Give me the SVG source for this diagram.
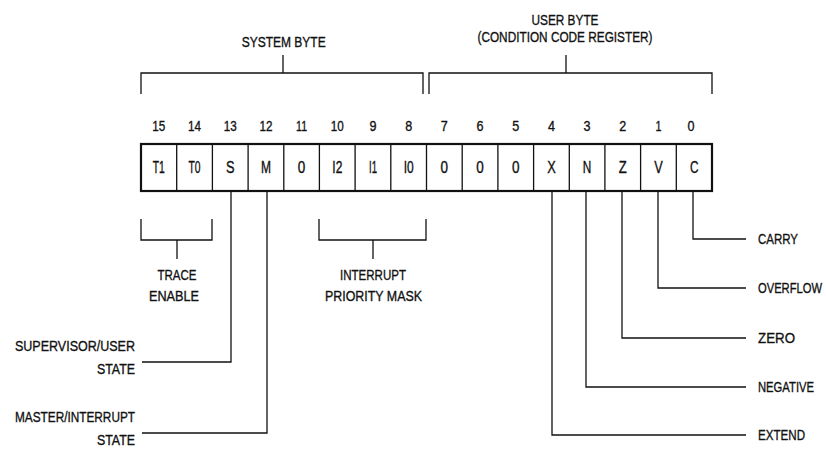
<svg xmlns="http://www.w3.org/2000/svg" width="826" height="453" viewBox="0 0 826 453">
<style>
text{font-family:"Liberation Sans",Arial,sans-serif;fill:#111;stroke:#111;stroke-width:0.35;font-size:15px}
.c{text-anchor:middle}
.e{text-anchor:end}
.cell{font-size:16px;text-anchor:middle}
.num{font-size:15px;text-anchor:middle}
.ln{fill:none;stroke:#111;stroke-width:1.3}
.box{fill:#fff;stroke:#111;stroke-width:2.2}
.div{stroke:#111;stroke-width:1.3}
</style>
<rect width="826" height="453" fill="#fff"/>
<g id="connectors">
<path class="ln" d="M141,94 V73 H423 V94 M283,55 V73"/>
<path class="ln" d="M429,94 V73 H712 V94 M566,55 V73"/>
<path class="ln" d="M141,219 V240 H212 V219 M177,240 V259"/>
<path class="ln" d="M319,219 V240 H426 V219 M373,240 V259"/>
<path class="ln" d="M231,192 V362 H142"/>
<path class="ln" d="M267,192 V433 H142"/>
<path class="ln" d="M693,192 V239 H746"/>
<path class="ln" d="M658,192 V288 H746"/>
<path class="ln" d="M622,192 V338 H746"/>
<path class="ln" d="M586,192 V387 H746"/>
<path class="ln" d="M552,192 V435 H746"/>
</g>
<g id="system-byte"><text class="c" x="283.7" y="47" textLength="84" lengthAdjust="spacingAndGlyphs">SYSTEM BYTE</text></g>
<g id="user-byte">
<text class="c" x="565" y="25" textLength="67" lengthAdjust="spacingAndGlyphs">USER BYTE</text>
<text class="c" x="565" y="42" textLength="175" lengthAdjust="spacingAndGlyphs">(CONDITION CODE REGISTER)</text>
</g>
<g id="bit-numbers">
<text class="num" x="158.8" y="131" textLength="13" lengthAdjust="spacingAndGlyphs">15</text>
<text class="num" x="194.5" y="131" textLength="13" lengthAdjust="spacingAndGlyphs">14</text>
<text class="num" x="230.2" y="131" textLength="13" lengthAdjust="spacingAndGlyphs">13</text>
<text class="num" x="265.9" y="131" textLength="13" lengthAdjust="spacingAndGlyphs">12</text>
<text class="num" x="301.6" y="131" textLength="11" lengthAdjust="spacingAndGlyphs">11</text>
<text class="num" x="337.3" y="131" textLength="13" lengthAdjust="spacingAndGlyphs">10</text>
<text class="num" x="373" y="131" textLength="7" lengthAdjust="spacingAndGlyphs">9</text>
<text class="num" x="408.7" y="131" textLength="7" lengthAdjust="spacingAndGlyphs">8</text>
<text class="num" x="444.3" y="131" textLength="7" lengthAdjust="spacingAndGlyphs">7</text>
<text class="num" x="480" y="131" textLength="7" lengthAdjust="spacingAndGlyphs">6</text>
<text class="num" x="515.7" y="131" textLength="7" lengthAdjust="spacingAndGlyphs">5</text>
<text class="num" x="551.4" y="131" textLength="7" lengthAdjust="spacingAndGlyphs">4</text>
<text class="num" x="587.1" y="131" textLength="7" lengthAdjust="spacingAndGlyphs">3</text>
<text class="num" x="622.8" y="131" textLength="7" lengthAdjust="spacingAndGlyphs">2</text>
<text class="num" x="658.5" y="131" textLength="6" lengthAdjust="spacingAndGlyphs">1</text>
<text class="num" x="691" y="131" textLength="7" lengthAdjust="spacingAndGlyphs">0</text>
</g>
<g id="register">
<rect class="box" x="141" y="144" width="571" height="47"/>
<path class="div" d="M176.7,144V191 M212.4,144V191 M248.1,144V191 M283.8,144V191 M319.4,144V191 M355.1,144V191 M390.8,144V191 M426.5,144V191 M462.2,144V191 M497.9,144V191 M533.6,144V191 M569.3,144V191 M604.9,144V191 M640.6,144V191 M676.3,144V191"/>
<text class="cell" x="158.8" y="173" textLength="12" lengthAdjust="spacingAndGlyphs">T1</text>
<text class="cell" x="194.5" y="173" textLength="12" lengthAdjust="spacingAndGlyphs">T0</text>
<text class="cell" x="230.2" y="173" textLength="8.5" lengthAdjust="spacingAndGlyphs">S</text>
<text class="cell" x="265.9" y="173" textLength="10" lengthAdjust="spacingAndGlyphs">M</text>
<text class="cell" x="301.6" y="173" textLength="7.5" lengthAdjust="spacingAndGlyphs">0</text>
<text class="cell" x="337.3" y="173" textLength="10" lengthAdjust="spacingAndGlyphs">I2</text>
<text class="cell" x="373" y="173" textLength="8" lengthAdjust="spacingAndGlyphs">I1</text>
<text class="cell" x="408.7" y="173" textLength="10" lengthAdjust="spacingAndGlyphs">I0</text>
<text class="cell" x="444.3" y="173" textLength="7.5" lengthAdjust="spacingAndGlyphs">0</text>
<text class="cell" x="480" y="173" textLength="7.5" lengthAdjust="spacingAndGlyphs">0</text>
<text class="cell" x="515.7" y="173" textLength="7.5" lengthAdjust="spacingAndGlyphs">0</text>
<text class="cell" x="551.4" y="173" textLength="8.5" lengthAdjust="spacingAndGlyphs">X</text>
<text class="cell" x="587.1" y="173" textLength="8.5" lengthAdjust="spacingAndGlyphs">N</text>
<text class="cell" x="622.8" y="173" textLength="8" lengthAdjust="spacingAndGlyphs">Z</text>
<text class="cell" x="658.5" y="173" textLength="8.5" lengthAdjust="spacingAndGlyphs">V</text>
<text class="cell" x="694.2" y="173" textLength="8.5" lengthAdjust="spacingAndGlyphs">C</text>
</g>
<g id="trace-enable">
<text class="c" x="177" y="280" textLength="39" lengthAdjust="spacingAndGlyphs">TRACE</text>
<text class="c" x="174" y="301" textLength="50" lengthAdjust="spacingAndGlyphs">ENABLE</text>
</g>
<g id="interrupt-priority-mask">
<text class="c" x="373" y="280" textLength="66" lengthAdjust="spacingAndGlyphs">INTERRUPT</text>
<text class="c" x="373.5" y="301" textLength="97" lengthAdjust="spacingAndGlyphs">PRIORITY MASK</text>
</g>
<g id="supervisor-user-state">
<text class="e" x="135" y="351" textLength="120" lengthAdjust="spacingAndGlyphs">SUPERVISOR/USER</text>
<text class="e" x="135" y="374" textLength="38" lengthAdjust="spacingAndGlyphs">STATE</text>
</g>
<g id="master-interrupt-state">
<text class="e" x="135" y="422" textLength="120" lengthAdjust="spacingAndGlyphs">MASTER/INTERRUPT</text>
<text class="e" x="135" y="445" textLength="38" lengthAdjust="spacingAndGlyphs">STATE</text>
</g>
<g id="carry"><text x="758" y="244" textLength="40" lengthAdjust="spacingAndGlyphs">CARRY</text></g>
<g id="overflow"><text transform="translate(758,293) scale(0.746,1)">OVERFLOW</text></g>
<g id="zero"><text x="758" y="343" textLength="37" lengthAdjust="spacingAndGlyphs">ZERO</text></g>
<g id="negative"><text transform="translate(758,392) scale(0.75,1)">NEGATIVE</text></g>
<g id="extend"><text x="758" y="440" textLength="47" lengthAdjust="spacingAndGlyphs">EXTEND</text></g>
</svg>
